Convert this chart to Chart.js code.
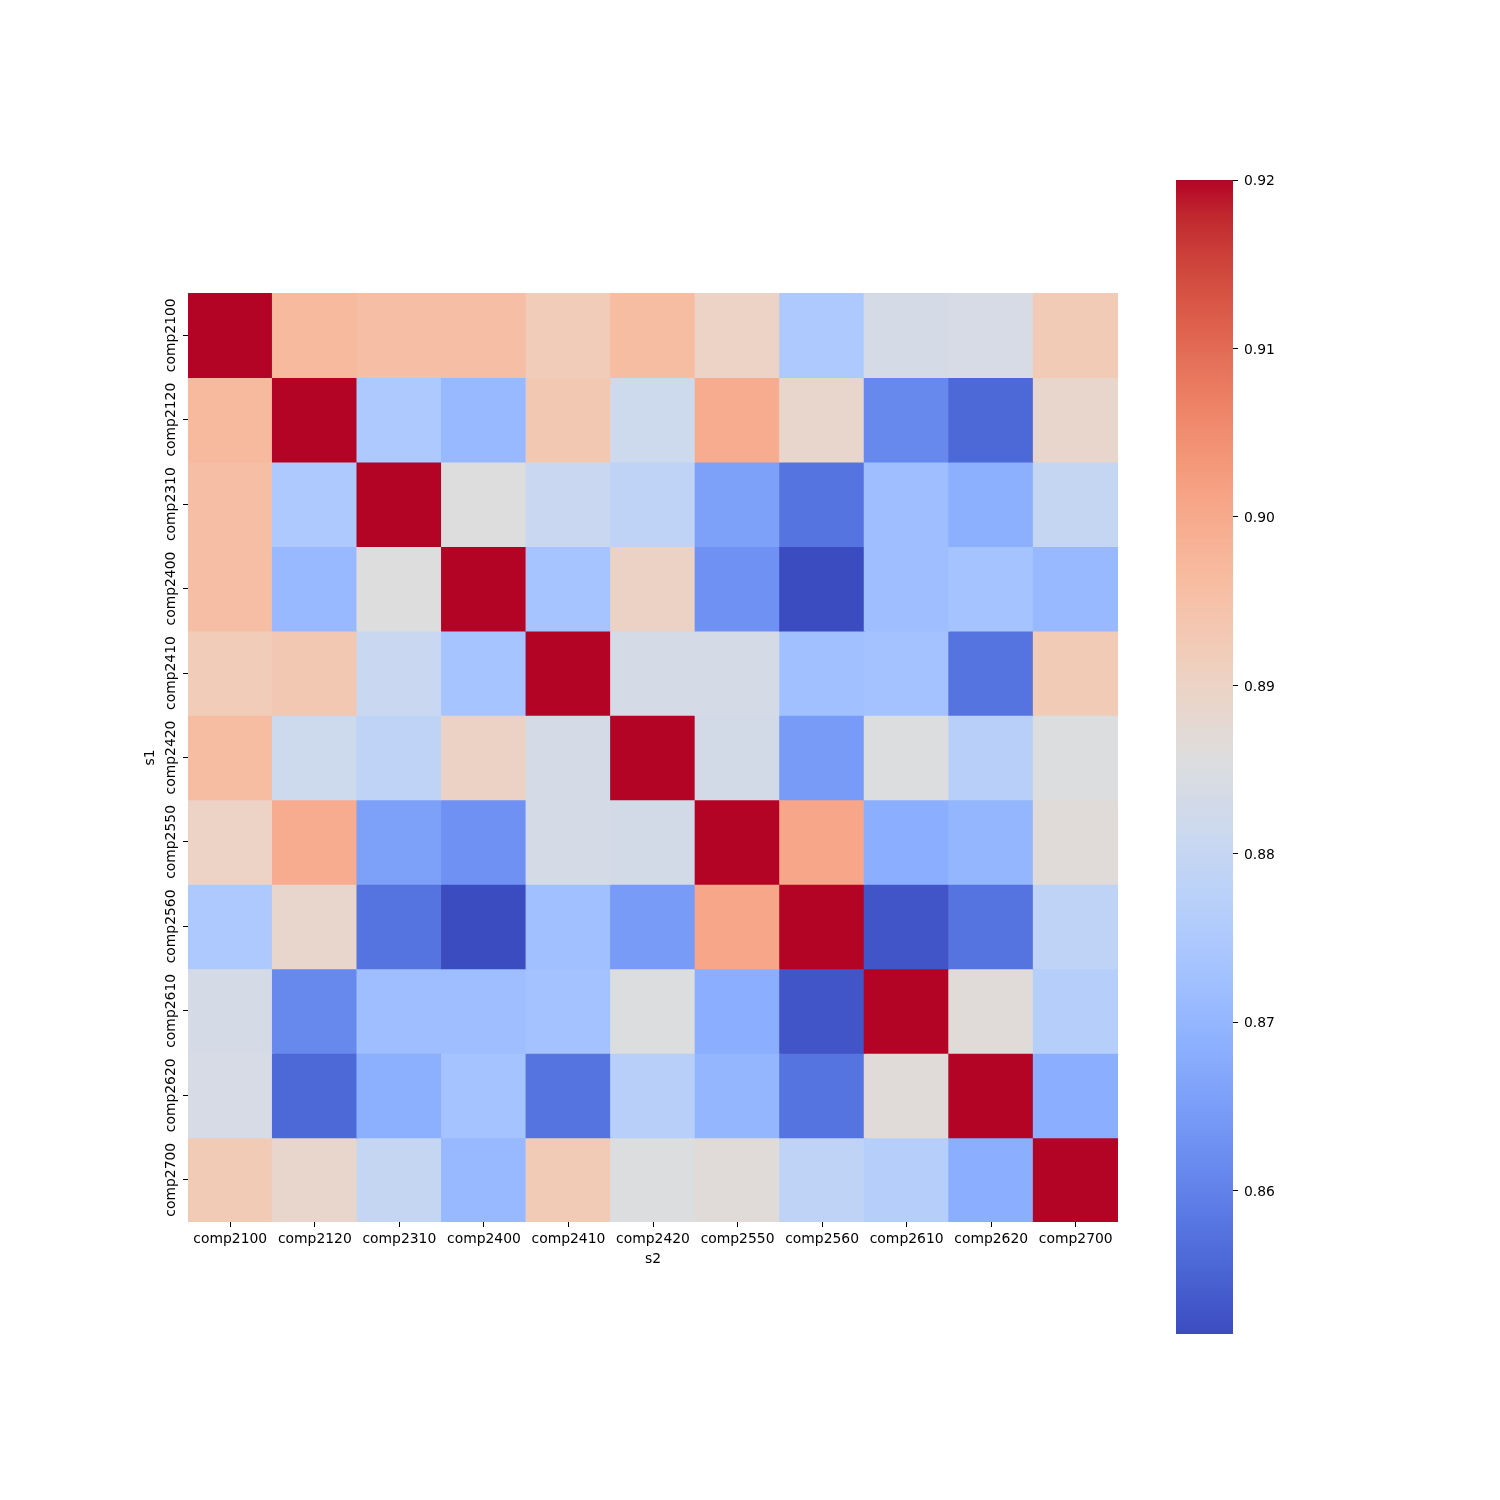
<!DOCTYPE html>
<html>
<head>
<meta charset="utf-8">
<script src="https://cdn.jsdelivr.net/npm/chart.js@4/dist/chart.umd.min.js"></script>
<style>
  html, body { margin: 0; padding: 0; background: #fff; }
  #wrap { position: relative; width: 1500px; height: 1500px; background: #fff; }
  canvas { position: absolute; top: 0; }
  #main { left: 0; }
  #cbar { left: 1160px; }
</style>
</head>
<body>
<div id="wrap">
  <canvas id="main" width="1160" height="1500"></canvas>
  <canvas id="cbar" width="340" height="1500"></canvas>
</div>
<script>
// ---------- data ----------
const rowLabels = ['comp2100','comp2120','comp2310','comp2400','comp2410','comp2420','comp2550','comp2560','comp2610','comp2620','comp2700'];
const colLabels = ['comp2100','comp2120','comp2310','comp2400','comp2410','comp2420','comp2550','comp2560','comp2610','comp2620','comp2700'];

const r2100 = [1.0000, 0.8967, 0.8957, 0.8957, 0.8922, 0.8960, 0.8900, 0.8751, 0.8834, 0.8838, 0.8925];
const r2120 = [0.8967, 1.0000, 0.8751, 0.8707, 0.8933, 0.8817, 0.8995, 0.8888, 0.8611, 0.8558, 0.8888];
const r2310 = [0.8957, 0.8751, 1.0000, 0.8857, 0.8809, 0.8786, 0.8655, 0.8578, 0.8720, 0.8686, 0.8799];
const r2400 = [0.8957, 0.8707, 0.8857, 1.0000, 0.8734, 0.8902, 0.8628, 0.8515, 0.8720, 0.8731, 0.8707];
const r2410 = [0.8922, 0.8933, 0.8809, 0.8734, 1.0000, 0.8837, 0.8837, 0.8725, 0.8729, 0.8577, 0.8925];
const r2420 = [0.8960, 0.8817, 0.8786, 0.8902, 0.8837, 1.0000, 0.8830, 0.8645, 0.8854, 0.8772, 0.8855];
const r2550 = [0.8900, 0.8995, 0.8655, 0.8628, 0.8837, 0.8830, 1.0000, 0.9008, 0.8683, 0.8700, 0.8865];
const r2560 = [0.8751, 0.8888, 0.8578, 0.8515, 0.8725, 0.8645, 0.9008, 1.0000, 0.8529, 0.8577, 0.8786];
const r2610 = [0.8834, 0.8611, 0.8720, 0.8720, 0.8729, 0.8854, 0.8683, 0.8529, 1.0000, 0.8865, 0.8768];
const r2620 = [0.8838, 0.8558, 0.8686, 0.8731, 0.8577, 0.8772, 0.8700, 0.8577, 0.8865, 1.0000, 0.8683];
const r2700 = [0.8925, 0.8888, 0.8799, 0.8707, 0.8925, 0.8855, 0.8865, 0.8786, 0.8768, 0.8683, 1.0000];
const matrixRows = [r2100, r2120, r2310, r2400, r2410, r2420, r2550, r2560, r2610, r2620, r2700];

const vMin = 0.8515;
const vMax = 0.92;
const cbarTicks = [0.86, 0.87, 0.88, 0.89, 0.90, 0.91, 0.92];

// ---------- coolwarm colormap ----------
const CW = [
  [59,76,192],[68,90,204],[77,104,215],[87,117,225],[98,130,234],[108,142,241],[119,154,247],[130,165,251],
  [141,176,254],[152,185,255],[163,194,255],[174,201,253],[184,208,249],[194,213,244],[204,217,238],[213,219,230],
  [221,221,221],[229,216,209],[236,211,197],[241,204,184],[245,196,172],[247,187,160],[247,177,148],[247,166,137],
  [244,154,123],[241,141,112],[236,127,99],[229,112,89],[222,96,77],[213,80,66],[203,62,56],[192,40,47],[180,4,38]
];
function coolwarm(t) {
  t = Math.max(0, Math.min(1, t));
  const f = t * (CW.length - 1);
  const i = Math.min(CW.length - 2, Math.floor(f));
  const u = f - i;
  const a = CW[i], b = CW[i + 1];
  const c = a.map((x, k) => Math.round(x + (b[k] - x) * u));
  return `rgb(${c[0]},${c[1]},${c[2]})`;
}
function colorFor(v) { return coolwarm((v - vMin) / (vMax - vMin)); }

const FONT = { family: '"DejaVu Sans", sans-serif', size: 13.9 };
Chart.defaults.font.family = FONT.family;
Chart.defaults.color = '#000';

// measure label width for centring rotated y labels
const mctx = document.createElement('canvas').getContext('2d');
mctx.font = `${FONT.size}px ${FONT.family}`;
const yLabelW = mctx.measureText(rowLabels[0]).width;

// ---------- main heatmap ----------
const datasets = rowLabels.map((name, r) => ({
  label: name,
  data: colLabels.map(() => [r - 0.5, r + 0.5]),
  backgroundColor: matrixRows[r].map(colorFor),
  borderWidth: 0,
  inflateAmount: 0.6,
  barPercentage: 1,
  categoryPercentage: 1,
  grouped: false
}));

const Y_W = 50, X_H = 46;
new Chart(document.getElementById('main'), {
  type: 'bar',
  data: { labels: colLabels, datasets },
  options: {
    responsive: false,
    animation: false,
    events: [],
    layout: { padding: { left: 188 - Y_W, right: 1160 - 1118, top: 293, bottom: 1500 - 1222 - X_H } },
    plugins: { legend: { display: false }, tooltip: { enabled: false } },
    scales: {
      x: {
        type: 'category',
        offset: true,
        border: { display: false },
        grid: { display: true, drawOnChartArea: false, offset: false, tickLength: 5, tickColor: '#000', tickWidth: 1 },
        ticks: { font: FONT, color: '#000', maxRotation: 0, minRotation: 0, padding: 4, autoSkip: false },
        title: { display: true, text: 's2', font: FONT, color: '#000', padding: { top: 0, bottom: 0 } },
        afterFit: s => { s.height = X_H; }
      },
      y: {
        type: 'linear',
        min: -0.5,
        max: rowLabels.length - 0.5,
        reverse: true,
        border: { display: false },
        grid: { display: true, drawOnChartArea: false, tickLength: 5, tickColor: '#000', tickWidth: 1 },
        afterBuildTicks: s => { s.ticks = rowLabels.map((_, i) => ({ value: i })); },
        ticks: {
          font: FONT, color: '#000', minRotation: 90, maxRotation: 90,
          padding: 11.5, labelOffset: -yLabelW / 2, autoSkip: false,
          callback: v => rowLabels[v]
        },
        title: { display: true, text: 's1', font: FONT, color: '#000', padding: { top: 4, bottom: 0 } },
        afterFit: s => { s.width = Y_W; }
      }
    }
  }
});

// ---------- colorbar ----------
const CB_W = 60;
function cbarGradient(ctx) {
  const chart = ctx.chart;
  const area = chart.chartArea;
  if (!area) return '#fff';
  const g = chart.ctx.createLinearGradient(0, area.bottom, 0, area.top);
  CW.forEach((c, i) => g.addColorStop(i / (CW.length - 1), `rgb(${c[0]},${c[1]},${c[2]})`));
  return g;
}
new Chart(document.getElementById('cbar'), {
  type: 'bar',
  data: {
    labels: [''],
    datasets: [{ data: [[vMin, vMax]], backgroundColor: cbarGradient, borderWidth: 0, barPercentage: 1, categoryPercentage: 1, inflateAmount: 0 }]
  },
  options: {
    responsive: false,
    animation: false,
    events: [],
    layout: { padding: { left: 1176 - 1160, right: 340 - (1233 - 1160) - CB_W, top: 180, bottom: 1500 - 1334 } },
    plugins: { legend: { display: false }, tooltip: { enabled: false } },
    scales: {
      x: { display: false },
      y: {
        type: 'linear',
        position: 'right',
        min: vMin,
        max: vMax,
        border: { display: false },
        grid: { display: true, drawOnChartArea: false, tickLength: 5, tickColor: '#000', tickWidth: 1 },
        afterBuildTicks: s => { s.ticks = cbarTicks.map(v => ({ value: v })); },
        ticks: { font: FONT, color: '#000', padding: 6, labelOffset: 1.5, callback: v => Number(v).toFixed(2) },
        afterFit: s => { s.width = CB_W; }
      }
    }
  }
});
</script>
</body>
</html>
